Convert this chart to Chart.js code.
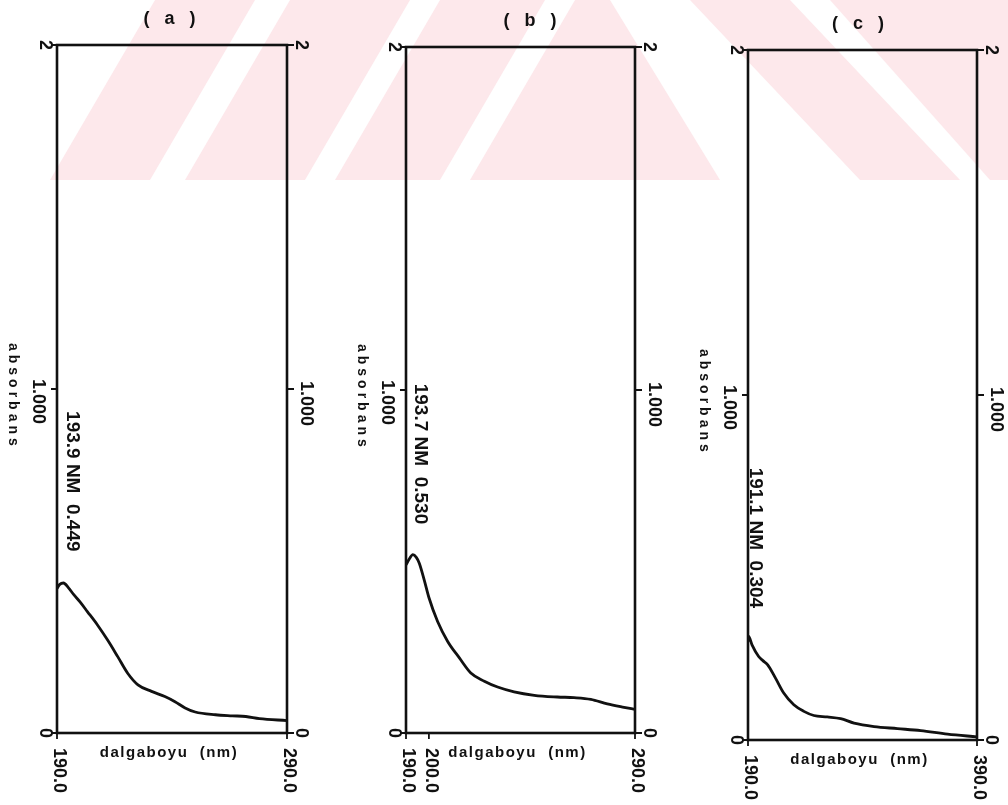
<!DOCTYPE html>
<html>
<head>
<meta charset="utf-8">
<script src="https://cdn.jsdelivr.net/npm/chart.js@4.4.1/dist/chart.umd.min.js"></script>
<style>
  html, body { margin: 0; padding: 0; background: #fff; }
  #wrap { position: relative; width: 1008px; height: 805px; overflow: hidden; }
  canvas { position: absolute; left: 0; top: 0; }
</style>
</head>
<body>
<div id="wrap">
  <canvas id="ca" width="1008" height="805"></canvas>
  <canvas id="cb" width="1008" height="805"></canvas>
  <canvas id="cc" width="1008" height="805"></canvas>
</div>
<script>
// absorbance axis (shared by the three spectra)
const yTicks = [0, 1, 2];
const yTickLabels = ['0', '1.000', '2'];

// (a)
const wlA  = [190.0, 191.2, 192.8, 195.0, 197.3, 200.0, 203.2, 207.6, 212.0, 216.4, 220.8, 225.2, 231.1, 236.9, 241.3, 245.7, 250.1, 258.9, 266.2, 272.1, 278.0, 290.0];
const absA = [0.420, 0.432, 0.436, 0.422, 0.402, 0.381, 0.353, 0.314, 0.270, 0.222, 0.173, 0.140, 0.121, 0.106, 0.091, 0.073, 0.061, 0.053, 0.050, 0.048, 0.042, 0.036];
const xTicksA = [190, 290];
const xLabelsA = ['190.0', '290.0'];
const peakA = [193.9, 0.449];

// (b)
const wlB  = [190.0, 191.5, 193.0, 194.5, 195.8, 198.0, 200.0, 203.8, 208.2, 213.3, 218.3, 224.2, 230.0, 237.2, 246.0, 256.1, 263.4, 270.7, 277.9, 285.2, 290.0];
const absB = [0.490, 0.508, 0.520, 0.512, 0.495, 0.445, 0.395, 0.325, 0.267, 0.219, 0.175, 0.151, 0.134, 0.120, 0.110, 0.105, 0.103, 0.098, 0.085, 0.075, 0.069];
const xTicksB = [190, 200, 290];
const xLabelsB = ['190.0', '200.0', '290.0'];
const peakB = [193.7, 0.530];

// (c)
const wlC  = [190.0, 190.6, 193.5, 199.3, 203.0, 207.2, 213.9, 221.2, 230.0, 238.8, 247.5, 259.2, 270.9, 282.6, 300.1, 320.5, 340.9, 364.3, 390.0];
const absC = [0.285, 0.300, 0.276, 0.242, 0.230, 0.218, 0.180, 0.136, 0.102, 0.083, 0.071, 0.067, 0.062, 0.049, 0.039, 0.033, 0.027, 0.017, 0.009];
const xTicksC = [190, 390];
const xLabelsC = ['190.0', '390.0'];
const peakC = [191.1, 0.304];

const INK = '#111';
const FONT = '"Liberation Sans", Arial, sans-serif';

function rotText(ctx, text, x, y, align) {
  ctx.save();
  ctx.translate(x, y);
  ctx.rotate(Math.PI / 2);
  ctx.textAlign = align;
  ctx.textBaseline = 'middle';
  ctx.fillText(text, 0, 0);
  ctx.restore();
}

// faint pink watermark in the top strip of the scan
const watermark = {
  id: 'watermark',
  beforeDraw(chart) {
    const ctx = chart.ctx;
    ctx.save();
    ctx.fillStyle = '#fff';
    ctx.fillRect(0, 0, chart.width, chart.height);
    ctx.beginPath();
    ctx.rect(0, 0, chart.width, 180);
    ctx.clip();
    ctx.fillStyle = '#fde8eb';
    const polys = [
      [[50, 180], [155, 0], [255, 0], [150, 180]],
      [[185, 180], [290, 0], [410, 0], [305, 180]],
      [[335, 180], [440, 0], [545, 0], [440, 180]],
      [[470, 180], [575, 0], [610, 0], [720, 180]],
      [[690, 0], [790, 0], [960, 180], [860, 180]],
      [[830, 0], [1008, 0], [1008, 180], [990, 180]]
    ];
    polys.forEach(p => {
      ctx.beginPath();
      ctx.moveTo(p[0][0], p[0][1]);
      p.slice(1).forEach(q => ctx.lineTo(q[0], q[1]));
      ctx.closePath();
      ctx.fill();
    });
    ctx.restore();
  }
};

const frame = {
  id: 'frame',
  afterDatasetsDraw(chart, args, o) {
    const { ctx, chartArea: a, scales: { x, y } } = chart;
    ctx.save();
    ctx.strokeStyle = INK;
    ctx.fillStyle = INK;
    ctx.lineWidth = 2.6;
    ctx.strokeRect(a.left, a.top, a.right - a.left, a.bottom - a.top);

    ctx.lineWidth = 1.8;
    ctx.font = 'bold 18px ' + FONT;
    yTicks.forEach((v, i) => {
      const py = y.getPixelForValue(v);
      ctx.beginPath();
      ctx.moveTo(a.left - 6, py); ctx.lineTo(a.left, py);
      ctx.moveTo(a.right, py); ctx.lineTo(a.right + 7, py);
      ctx.stroke();
      const t = yTickLabels[i];
      if (t.length > 1) {
        rotText(ctx, t, a.left - 19, py - 10, 'left');
        rotText(ctx, t, a.right + 19, py - 8, 'left');
      } else {
        rotText(ctx, t, a.left - 12, py, 'center');
        rotText(ctx, t, a.right + 14, py, 'center');
      }
    });

    o.xTicks.forEach((v, i) => {
      const px = x.getPixelForValue(v);
      ctx.beginPath();
      ctx.moveTo(px, a.bottom); ctx.lineTo(px, a.bottom + 6);
      ctx.stroke();
      rotText(ctx, o.xLabels[i], px + 2, a.bottom + 15, 'left');
    });

    // peak annotation
    const ppx = x.getPixelForValue(o.peak[0]) + 6;
    const ppy = y.getPixelForValue(o.peak[1]) - 27;
    ctx.font = 'bold 19px ' + FONT;
    rotText(ctx, o.peak[0].toFixed(1) + ' NM  ' + o.peak[1].toFixed(3), ppx, ppy, 'right');

    // axis titles
    ctx.font = 'bold 14px ' + FONT;
    ctx.letterSpacing = '4px';
    rotText(ctx, 'absorbans', a.left - 44, y.getPixelForValue(1) - 46, 'left');

    ctx.font = 'bold 15px ' + FONT;
    ctx.letterSpacing = '1.5px';
    ctx.textAlign = 'center';
    ctx.textBaseline = 'middle';
    const cx = (a.left + a.right) / 2;
    ctx.fillText('dalgaboyu  (nm)', cx - 3, a.bottom + 20);

    ctx.font = 'bold 18px ' + FONT;
    ctx.letterSpacing = '5px';
    ctx.fillText(o.title, cx + o.titleDx, a.top - 26);
    ctx.restore();
  }
};

function makeChart(id, wl, abs, xMax, box, opts, withBg) {
  const points = wl.map((w, i) => ({ x: w, y: abs[i] }));
  return new Chart(document.getElementById(id), {
    type: 'line',
    data: {
      datasets: [{
        data: points,
        borderColor: INK,
        borderWidth: 2.8,
        pointRadius: 0,
        fill: false,
        cubicInterpolationMode: 'monotone'
      }]
    },
    options: {
      responsive: false,
      animation: false,
      layout: { padding: { left: box[0], top: box[1], right: 1008 - box[2], bottom: 805 - box[3] } },
      scales: {
        x: { type: 'linear', min: 190, max: xMax, display: false },
        y: { min: 0, max: 2, display: false }
      },
      plugins: {
        legend: { display: false },
        tooltip: { enabled: false },
        frame: opts
      }
    },
    plugins: withBg ? [watermark, frame] : [frame]
  });
}

makeChart('ca', wlA, absA, 290, [57, 45, 287, 733],
  { title: '( a )', titleDx: 0, xTicks: xTicksA, xLabels: xLabelsA, peak: peakA }, true);
makeChart('cb', wlB, absB, 290, [406, 47, 635, 733],
  { title: '( b )', titleDx: 12, xTicks: xTicksB, xLabels: xLabelsB, peak: peakB }, false);
makeChart('cc', wlC, absC, 390, [748, 50, 977, 740],
  { title: '( c )', titleDx: -2, xTicks: xTicksC, xLabels: xLabelsC, peak: peakC }, false);
</script>
</body>
</html>
